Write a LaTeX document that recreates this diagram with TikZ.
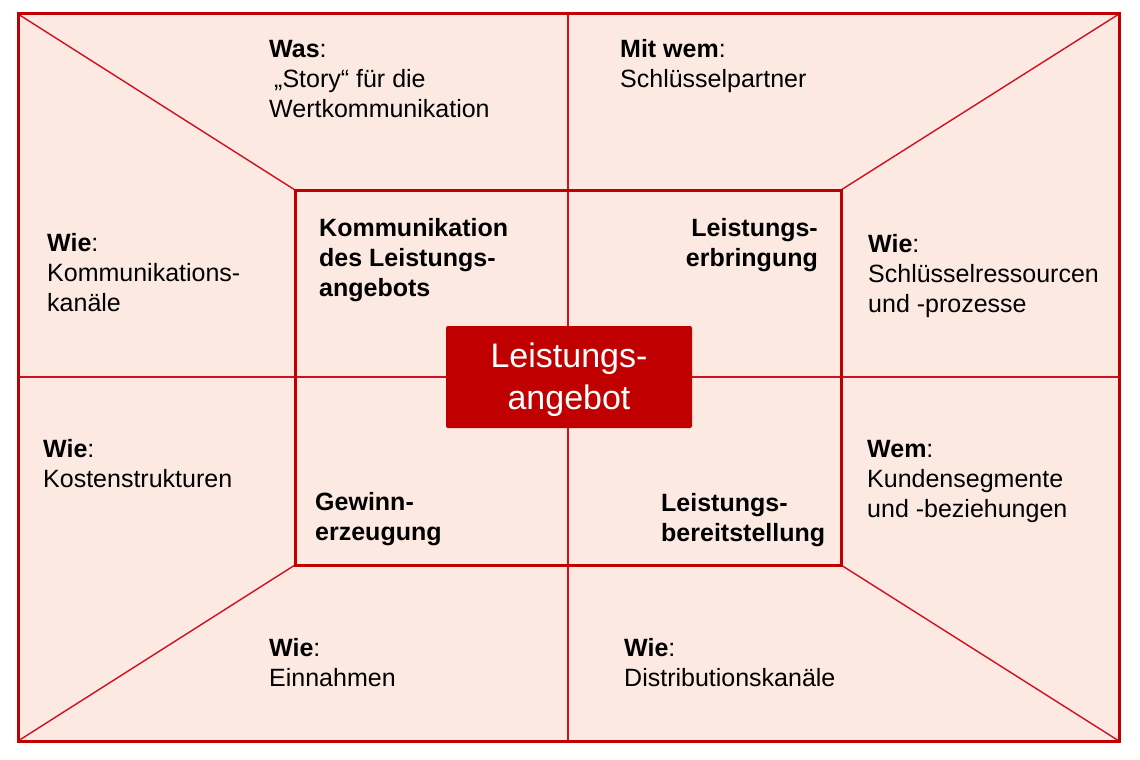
\documentclass[tikz,border=0pt]{standalone}
\usepackage{fontspec}
\setmainfont{Liberation Sans}
\definecolor{bmred}{HTML}{C00000}
\definecolor{bmline}{HTML}{D01020}
\definecolor{bmfill}{HTML}{FBE9E2}
\begin{document}
\begin{tikzpicture}[x=1pt,y=-1pt,
  frameline/.style={draw=bmred,line width=3pt},
  thinline/.style={draw=bmline,line width=1.4pt},
  lbl/.style={anchor=base west,inner sep=0pt,align=left,text=black,font=\fontsize{25}{30}\selectfont},
  lblb/.style={lbl,font=\fontsize{25}{30}\selectfont\bfseries},
  lblr/.style={anchor=base east,inner sep=0pt,align=right,text=black,font=\fontsize{25}{30}\selectfont\bfseries},
  corebox/.style={fill=bmred,rounded corners=2pt,minimum width=246pt,minimum height=102pt,inner sep=0pt}]
\useasboundingbox (0,0) rectangle (1140,760);
\coordinate (oTL) at (18,14);
\coordinate (oTR) at (1119,14);
\coordinate (oBL) at (18,741);
\coordinate (oBR) at (1119,741);
\coordinate (iTL) at (295,190);
\coordinate (iTR) at (841,190);
\coordinate (iBL) at (295,565);
\coordinate (iBR) at (841,565);
\coordinate (mT) at (568,14);
\coordinate (mB) at (568,741);
\coordinate (mL) at (18,377);
\coordinate (mR) at (1119,377);
\fill[bmfill] (oTL) rectangle (oBR);
\draw[thinline] (mT) -- (mB);
\draw[thinline] (mL) -- (mR);
\draw[thinline] (oTL) -- (iTL);
\draw[thinline] (oTR) -- (iTR);
\draw[thinline] (oBL) -- (iBL);
\draw[thinline] (oBR) -- (iBR);
\draw[frameline] (iTL) rectangle (iBR);
\draw[frameline] (oTL) rectangle (oBR);
\node[corebox] (core) at (569,377) {};
\node[anchor=base,inner sep=0pt,align=center,text=white,font=\fontsize{34}{42}\selectfont] (coretext) at (569,409) {Leistungs-\\angebot};
% outer labels (anchored at the baseline of the last line)
\node[lbl] (was) at (269,117) {\textbf{Was}:\\\hspace{5pt}„Story“ für die\\Wertkommunikation};
\node[lbl] (mitwem) at (620,87) {\textbf{Mit wem}:\\Schlüsselpartner};
\node[lbl] (wieL) at (47,311) {\textbf{Wie}:\\Kommunikations-\\kanäle};
\node[lbl] (wieR) at (868,312) {\textbf{Wie}:\\Schlüsselressourcen\\und -prozesse};
\node[lbl] (wieKL) at (43,487) {\textbf{Wie}:\\Kostenstrukturen};
\node[lbl] (wem) at (867,517) {\textbf{Wem}:\\Kundensegmente\\und -beziehungen};
\node[lbl] (wieBL) at (269,686) {\textbf{Wie}:\\Einnahmen};
\node[lbl] (wieBR) at (624,686) {\textbf{Wie}:\\Distributionskanäle};
% inner labels
\node[lblb] (komm) at (319,296) {Kommunikation\\des Leistungs-\\angebots};
\node[lblr] (erbr) at (818,266) {Leistungs-\\erbringung};
\node[lblb] (gew) at (315,540) {Gewinn-\\erzeugung};
\node[lblb] (bereit) at (661,541) {Leistungs-\\bereitstellung};
\end{tikzpicture}
\end{document}
